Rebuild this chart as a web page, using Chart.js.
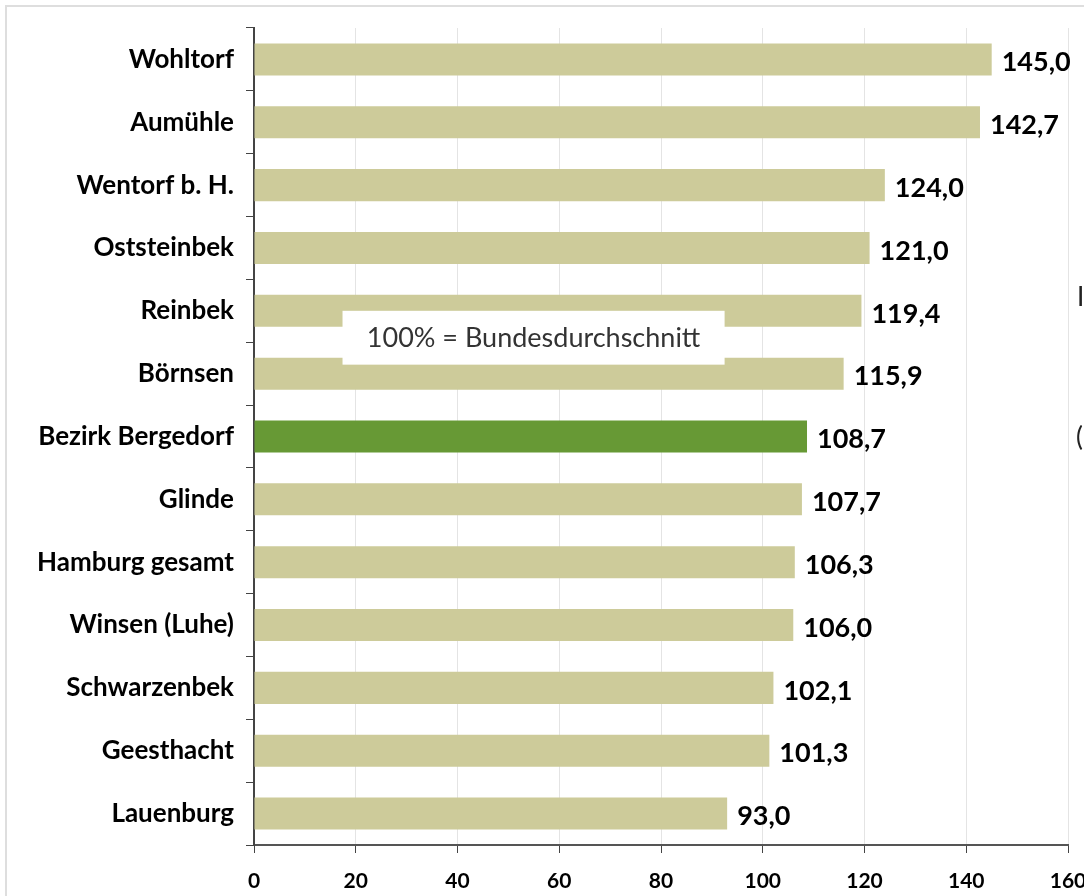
<!DOCTYPE html>
<html>
<head>
<meta charset="utf-8">
<script src="https://cdn.jsdelivr.net/npm/chart.js@4"></script>
<style>
  body { margin: 0; background: #fff; }
  #wrap { width: 1084px; height: 896px; position: relative; }
</style>
</head>
<body>
<div id="wrap"><canvas id="myChart"></canvas></div>
<script>
let orte = ['Wohltorf', 'Aumühle', 'Wentorf b. H.', 'Oststeinbek', 'Reinbek', 'Börnsen',
  'Bezirk Bergedorf', 'Glinde', 'Hamburg gesamt', 'Winsen (Luhe)', 'Schwarzenbek', 'Geesthacht', 'Lauenburg'];
let kaufkraft = [145.0, 142.7, 124.0, 121.0, 119.4, 115.9, 108.7, 107.7, 106.3, 106.0, 102.1, 101.3, 93.0];
let xTicks = [0, 20, 40, 60, 80, 100, 120, 140, 160];
let hinweis = '100% = Bundesdurchschnitt';

let barColors = orte.map(o => o === 'Bezirk Bergedorf' ? '#679935' : '#cdcb9a');

// value labels, note box and frame
let extras = {
  id: 'extras',
  beforeDraw(chart) {
    let c = chart.ctx;
    c.save();
    c.strokeStyle = '#dedede';
    c.lineWidth = 2;
    c.strokeRect(6, 6, 1200, 1200);
    c.restore();
  },
  afterDatasetsDraw(chart) {
    let c = chart.ctx;
    let meta = chart.getDatasetMeta(0);
    c.save();
    c.font = 'bold 27px Lato';
    c.fillStyle = '#000';
    c.textBaseline = 'middle';
    meta.data.forEach((bar, i) => {
      let txt = kaufkraft[i].toFixed(1).replace('.', ',');
      c.fillText(txt, bar.x + 10, bar.y + 3);
    });

    let xs = chart.scales.x, ys = chart.scales.y;
    let left = xs.getPixelForValue(17.4);
    let right = xs.getPixelForValue(92.5);
    let top = ys.getPixelForValue(4);
    let bottom = ys.getPixelForValue(5) - 9;
    c.fillStyle = '#fff';
    c.fillRect(left, top, right - left, bottom - top);
    c.fillStyle = '#333';
    c.font = '27px Lato';
    c.textAlign = 'center';
    c.fillText(hinweis, (left + right) / 2, (top + bottom) / 2 + 1);

    c.textAlign = 'left';
    c.fillStyle = '#222';
    c.font = '26px Lato';
    c.fillText('I', 1077, 298);
    c.fillText('(', 1076, 438);
    c.restore();
  }
};

new Chart(document.getElementById('myChart'), {
  type: 'bar',
  data: {
    labels: orte,
    datasets: [{
      data: kaufkraft,
      backgroundColor: barColors,
      categoryPercentage: 1,
      barPercentage: 0.51
    }]
  },
  options: {
    indexAxis: 'y',
    responsive: true,
    maintainAspectRatio: false,
    animation: false,
    layout: { padding: { left: 0, right: 16, top: 28, bottom: 0 } },
    plugins: { legend: { display: false }, tooltip: { enabled: false } },
    scales: {
      x: {
        min: 0,
        max: 160,
        afterBuildTicks: s => { s.ticks = xTicks.map(v => ({ value: v })); },
        afterFit: s => { s.height = 51; s.paddingRight = 0; s.paddingLeft = 0; },
        grid: { color: '#e4e4e4', tickColor: '#444', tickLength: 8, lineWidth: 1 },
        border: { color: '#555', width: 2 },
        ticks: { color: '#000', padding: 16, font: { family: 'Lato', size: 21, weight: 'bold' } }
      },
      y: {
        afterFit: s => { s.width = 254; },
        grid: { drawOnChartArea: false, tickColor: '#444', tickLength: 8, offset: true },
        border: { color: '#444', width: 2 },
        ticks: { color: '#000', padding: 12, font: { family: 'Lato', size: 26, weight: 'bold' } }
      }
    }
  },
  plugins: [extras]
});
</script>
</body>
</html>
